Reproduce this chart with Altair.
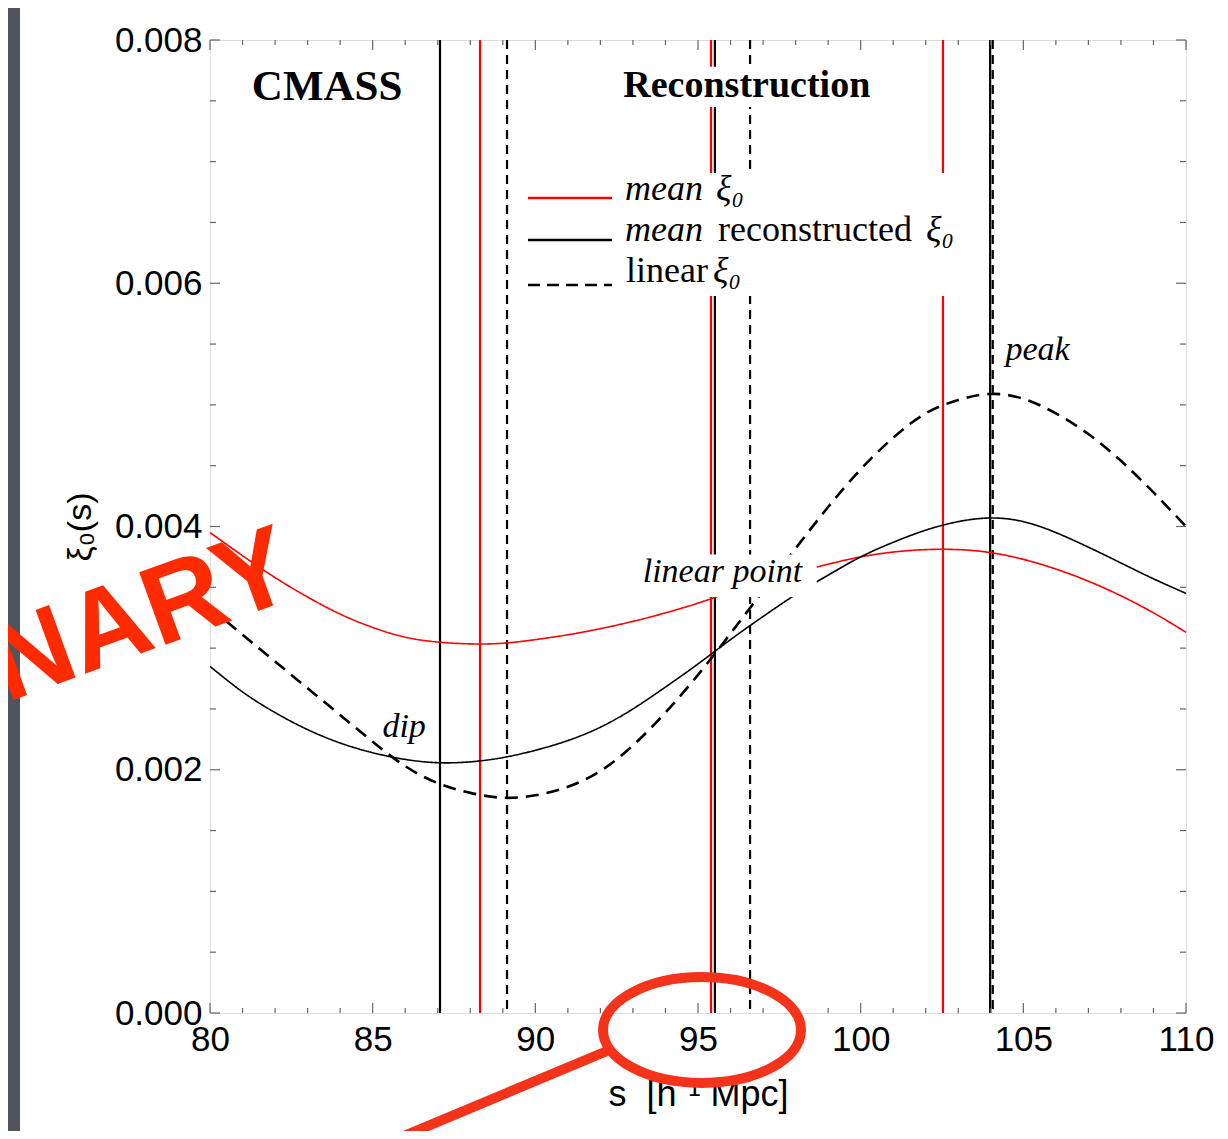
import altair as alt
import pandas as pd

# ---------------- data ----------------
s_values = list(range(80, 111))
# xi_0 in units of 1e-3
mean_xi = [3.95, 3.76, 3.58, 3.42, 3.28, 3.17, 3.09, 3.05, 3.035, 3.04,
           3.07, 3.11, 3.16, 3.22, 3.29, 3.37, 3.46, 3.54, 3.62, 3.69,
           3.75, 3.79, 3.81, 3.81, 3.785, 3.73, 3.65, 3.55, 3.43, 3.29, 3.13]
recon_xi = [2.85, 2.64, 2.47, 2.33, 2.22, 2.14, 2.085, 2.058, 2.065, 2.10,
            2.16, 2.24, 2.35, 2.50, 2.68, 2.87, 3.07, 3.26, 3.44, 3.60,
            3.75, 3.87, 3.97, 4.04, 4.07, 4.04, 3.95, 3.83, 3.70, 3.57, 3.45]
linear_xi = [3.33, 3.11, 2.89, 2.67, 2.45, 2.23, 2.03, 1.89, 1.81, 1.77,
             1.79, 1.86, 1.99, 2.20, 2.47, 2.78, 3.12, 3.47, 3.82, 4.16,
             4.47, 4.73, 4.93, 5.04, 5.09, 5.05, 4.93, 4.76, 4.54, 4.28, 4.00]

series = ["mean ξ₀", "mean reconstructed ξ₀", "linear ξ₀"]
curves = [mean_xi, recon_xi, linear_xi]

# vertical markers: dip, linear point, peak of each series
vline_s = [88.30, 95.40, 102.53, 87.07, 95.52, 103.98, 89.13, 96.60, 104.06]
vline_series = ["mean ξ₀"] * 3 + ["mean reconstructed ξ₀"] * 3 + ["linear ξ₀"] * 3

# axis ticks
x_major = [80, 85, 90, 95, 100, 105, 110]
x_minor = [v for v in range(80, 111) if v % 5 != 0]
y_major = [0.0, 0.002, 0.004, 0.006, 0.008]
y_minor = [0.0005, 0.001, 0.0015, 0.0025, 0.003, 0.0035, 0.0045, 0.005,
           0.0055, 0.0065, 0.007, 0.0075]

# annotations (data coordinates)
title_labels = ["CMASS", "Reconstruction"]
title_s = [83.6, 96.5]
title_v = [0.00751, 0.00753]
title_size = [43, 38]
italic_labels = ["peak", "linear point", "dip"]
italic_s = [104.45, 93.3, 85.3]
italic_v = [0.00537, 0.00354, 0.00227]
box_s1 = [92.6, 93.15]
box_s2 = [100.1, 98.65]
box_v1 = [0.00745, 0.00342]
box_v2 = [0.00778, 0.00377]

# ---------------- frames ----------------
curve_df = pd.DataFrame({
    "s": s_values * 3,
    "xi": [v * 1e-3 for c in curves for v in c],
    "series": [name for name, c in zip(series, curves) for _ in c],
})
vline_df = pd.DataFrame({"s": vline_s, "series": vline_series})
title_df = pd.DataFrame({"label": title_labels, "s": title_s, "xi": title_v, "size": title_size})
italic_df = pd.DataFrame({"label": italic_labels, "s": italic_s, "xi": italic_v})
box_df = pd.DataFrame({"s": box_s1, "s2": box_s2, "xi": box_v1, "xi2": box_v2})

W, H = 976, 973
RED = "#ff0000"
ANN = "#f5331a"
SERIF = "Liberation Serif"
SANS = "Liberation Sans"

xscale = alt.Scale(domain=[80, 110], nice=False, zero=False)
yscale = alt.Scale(domain=[0, 0.008], nice=False, zero=False)
xaxis = alt.Axis(values=x_major, format="d", ticks=False, domain=False, grid=False,
                 labelFont=SANS, labelFontSize=35, labelColor="black", labelPadding=9,
                 labelFlush=False, labelOverlap=False,
                 title="s\u00a0\u00a0[h⁻¹ Mpc]", titleFont=SANS, titleFontSize=36,
                 titleFontWeight="normal", titleColor="black", titlePadding=20)
yaxis = alt.Axis(values=y_major, format=".3f", ticks=False, domain=False, grid=False,
                 labelFont=SANS, labelFontSize=35, labelColor="black", labelPadding=8,
                 labelFlush=False, labelOverlap=False,
                 title="ξ₀(s)", titleFont=SANS, titleFontSize=34,
                 titleFontWeight="normal", titleColor="black", titlePadding=17)


def X(field="s"):
    return alt.X(f"{field}:Q", scale=xscale, axis=xaxis)


def Y(field="xi"):
    return alt.Y(f"{field}:Q", scale=yscale, axis=yaxis)


dummy = pd.DataFrame({"k": [0]})
layers = []

# dark slide strip on the left
layers.append(alt.Chart(dummy).mark_rect(color="#4f545e").encode(
    x=alt.value(-202), x2=alt.value(-190), y=alt.value(-32), y2=alt.value(H + 120)))

# vertical marker lines
vstyle = {"mean ξ₀": (RED, 2.2, [1, 0]),
          "mean reconstructed ξ₀": ("#000000", 2.2, [1, 0]),
          "linear ξ₀": ("#000000", 2.2, [9, 6])}
for name in series:
    col, sw, dash = vstyle[name]
    layers.append(alt.Chart(vline_df[vline_df.series == name]).mark_rule(
        color=col, strokeWidth=sw, strokeDash=dash).encode(
        x=X(), y=alt.value(0), y2=alt.value(H)))

# curves
cstyle = {"mean ξ₀": (RED, 1.6, [1, 0]),
          "mean reconstructed ξ₀": ("#000000", 1.6, [1, 0]),
          "linear ξ₀": ("#000000", 2.6, [13, 8])}
for name in series:
    col, sw, dash = cstyle[name]
    layers.append(alt.Chart(curve_df[curve_df.series == name]).mark_line(
        color=col, strokeWidth=sw, strokeDash=dash, interpolate="natural").encode(
        x=X(), y=Y()))

# white boxes behind labels
layers.append(alt.Chart(box_df).mark_rect(color="white").encode(
    x=X(), x2="s2:Q", y=Y(), y2="xi2:Q"))

# bold titles
for i in range(len(title_labels)):
    layers.append(alt.Chart(title_df.iloc[[i]]).mark_text(
        font=SERIF, fontWeight="bold", fontSize=title_size[i], color="black",
        align="center", baseline="alphabetic").encode(x=X(), y=Y(), text="label:N"))

# italic annotations
layers.append(alt.Chart(italic_df).mark_text(
    font=SERIF, fontStyle="italic", fontSize=34, color="black",
    align="left", baseline="alphabetic").encode(x=X(), y=Y(), text="label:N"))

# legend (custom, so that "mean" can be italic)
layers.append(alt.Chart(dummy).mark_rect(color="white").encode(
    x=alt.value(305), x2=alt.value(765), y=alt.value(133), y2=alt.value(256)))
leg_y = [158, 200, 245]
leg_sw = [2.6, 2.6, 2.6]
leg_dash = [[1, 0], [1, 0], [12, 7]]
leg_col = [RED, "#000000", "#000000"]
for i in range(3):
    layers.append(alt.Chart(dummy).mark_rule(
        color=leg_col[i], strokeWidth=leg_sw[i], strokeDash=leg_dash[i]).encode(
        x=alt.value(318), x2=alt.value(402), y=alt.value(leg_y[i])))

leg_parts = [("mean", "italic", 415, 160), ("ξ₀", "italic", 506, 160),
             ("mean", "italic", 415, 201), ("reconstructed", "normal", 508, 201),
             ("ξ₀", "italic", 716, 201),
             ("linear", "normal", 416, 242), ("ξ₀", "italic", 503, 242)]
for txt, style, px, py in leg_parts:
    layers.append(alt.Chart(dummy).mark_text(
        text=txt, font=SERIF, fontStyle=style, fontSize=36, color="black",
        align="left", baseline="alphabetic").encode(x=alt.value(px), y=alt.value(py)))

# frame ticks (inward, on all four sides)
TC = "#666666"
xmaj = pd.DataFrame({"s": x_major})
xmin = pd.DataFrame({"s": x_minor})
ymaj = pd.DataFrame({"xi": y_major})
ymin = pd.DataFrame({"xi": y_minor})
for df, ln in ((xmaj, 10), (xmin, 5)):
    layers.append(alt.Chart(df).mark_rule(color=TC, strokeWidth=1.2).encode(
        x=X(), y=alt.value(H), y2=alt.value(H - ln)))
    layers.append(alt.Chart(df).mark_rule(color=TC, strokeWidth=1.2).encode(
        x=X(), y=alt.value(0), y2=alt.value(ln)))
for df, ln in ((ymaj, 10), (ymin, 6)):
    layers.append(alt.Chart(df).mark_rule(color=TC, strokeWidth=1.2).encode(
        y=Y(), x=alt.value(0), x2=alt.value(ln)))
    layers.append(alt.Chart(df).mark_rule(color=TC, strokeWidth=1.2).encode(
        y=Y(), x=alt.value(W), x2=alt.value(W - ln)))

# slide decorations: "PRELIMINARY" stamp (cut at the slide edge), red ellipse, pointer
layers.append(alt.Chart(dummy).mark_text(
    text="NARY", font=SANS, fontWeight="bold", fontSize=112, color="#ff2a00",
    angle=340, align="center", baseline="middle").encode(
    x=alt.value(-68), y=alt.value(577)))
ellipse = ("M 1 0 C 1 0.2955 0.5523 0.535 0 0.535 C -0.5523 0.535 -1 0.2955 -1 0 "
           "C -1 -0.2955 -0.5523 -0.535 0 -0.535 C 0.5523 -0.535 1 -0.2955 1 0 Z")
layers.append(alt.Chart(dummy).mark_point(
    shape=ellipse, size=198 * 198, filled=False, stroke=ANN, strokeWidth=10,
    opacity=1).encode(x=alt.value(492), y=alt.value(990)))
layers.append(alt.Chart(dummy).mark_rule(color=ANN, strokeWidth=10).encode(
    x=alt.value(397), y=alt.value(1011), x2=alt.value(170), y2=alt.value(1106)))

chart = alt.layer(*layers).properties(
    width=W, height=H,
    autosize=alt.AutoSizeParams(type="none"),
    padding={"left": 202, "top": 32, "right": 34, "bottom": 118},
).configure_view(stroke="#8a8a8a", strokeWidth=1.5).configure(background="white")

chart.save("out.html", embed_options={"renderer": "svg", "actions": False})
